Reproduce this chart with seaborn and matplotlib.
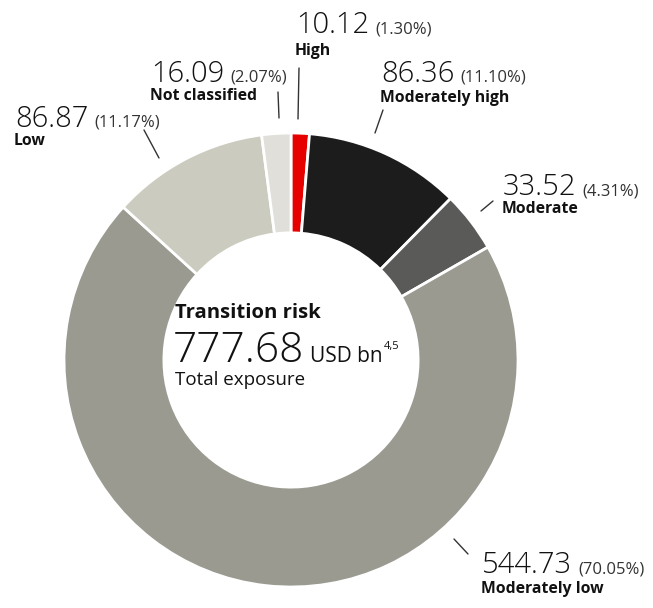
import matplotlib
matplotlib.use("Agg")
import matplotlib.pyplot as plt
import seaborn as sns

# ---- data ----
categories = ["High", "Moderately high", "Moderate", "Moderately low", "Low", "Not classified"]
values = [10.12, 86.36, 33.52, 544.73, 86.87, 16.09]
percents = ["1.30%", "11.10%", "4.31%", "70.05%", "11.17%", "2.07%"]
value_labels = ["10.12", "86.36", "33.52", "544.73", "86.87", "16.09"]
total_label = "777.68"
colors = ["#e60000", "#1c1c1c", "#5a5b59", "#9a9a91", "#cccbbf", "#e0dfd9"]

sns.set_theme(style="white")
plt.rcParams["font.family"] = ["Open Sans", "DejaVu Sans"]

W, H = 653, 608
fig = plt.figure(figsize=(W / 100, H / 100), dpi=100)
fig.patch.set_facecolor("white")

cx, cy, R = 291, 360, 227
ax = fig.add_axes([(cx - R) / W, (H - cy - R) / H, 2 * R / W, 2 * R / H])
ax.pie(values, colors=colors, startangle=90, counterclock=False, radius=1.0,
       wedgeprops=dict(width=0.44, edgecolor="white", linewidth=2))
ax.set_xlim(-1, 1)
ax.set_ylim(-1, 1)
ax.axis("off")


def fx(x):
    return x / W


def fy(y):
    return 1 - y / H


# label layout (pixel positions): left x, number baseline, name baseline
label_pos = {
    "High": (296, 33, 55),
    "Moderately high": (381, 82, 102),
    "Moderate": (503, 195, 213),
    "Moderately low": (482, 573, 593),
    "Low": (15, 127, 145),
    "Not classified": (151, 82, 100),
}
leader_lines = {
    "High": ((299, 68), (298, 119)),
    "Moderately high": ((383, 110), (375, 133)),
    "Moderate": ((493, 201), (481, 211)),
    "Moderately low": ((454, 539), (468, 554)),
    "Low": ((144, 130), (159, 158)),
    "Not classified": ((278, 92), (279, 118)),
}

fig.canvas.draw()
renderer = fig.canvas.get_renderer()
txtc = "#111111"
for cat, vl, pc in zip(categories, value_labels, percents):
    x, yb_num, yb_name = label_pos[cat]
    t = fig.text(fx(x), fy(yb_num), vl, fontsize=21, fontweight="light", color=txtc,
                 va="baseline", ha="left")
    bb = t.get_window_extent(renderer)
    fig.text(fx(bb.x1 + 6), fy(yb_num), f"({pc})", fontsize=12, color="#333333",
             va="baseline", ha="left")
    fig.text(fx(x - 1), fy(yb_name), cat, fontsize=11.3, fontweight="bold", color=txtc,
             va="baseline", ha="left")
    (x0, y0), (x1, y1) = leader_lines[cat]
    fig.add_artist(plt.Line2D([fx(x0), fx(x1)], [fy(y0), fy(y1)], color="#333333", lw=1.0))

# centre text
fig.text(fx(175), fy(318), "Transition risk", fontsize=14.6, fontweight="bold", color=txtc,
         va="baseline", ha="left")
t = fig.text(fx(173), fy(362), total_label, fontsize=30.5, fontweight="light", color=txtc,
             va="baseline", ha="left")
bb = t.get_window_extent(renderer)
t2 = fig.text(fx(bb.x1 + 6), fy(362), "USD bn", fontsize=15, color=txtc, va="baseline", ha="left")
bb2 = t2.get_window_extent(renderer)
fig.text(fx(bb2.x1 + 1), fy(349), "4,5", fontsize=8, color=txtc, va="baseline", ha="left")
fig.text(fx(175), fy(385), "Total exposure", fontsize=13.5, color=txtc, va="baseline", ha="left")

fig.savefig("out.png", dpi=100, facecolor="white")
